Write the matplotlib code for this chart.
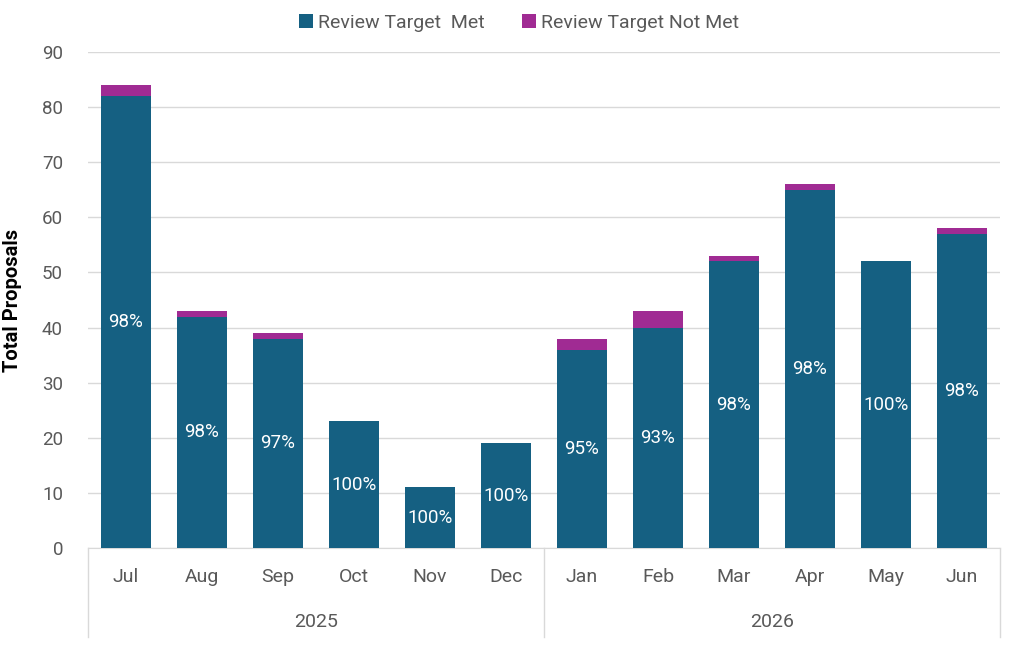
import numpy as np
import matplotlib.pyplot as plt
import matplotlib.transforms as mtransforms

months = ["Jul", "Aug", "Sep", "Oct", "Nov", "Dec",
          "Jan", "Feb", "Mar", "Apr", "May", "Jun"]
years = ["2025", "2026"]
met = [82, 42, 38, 23, 11, 19, 36, 40, 52, 65, 52, 57]
not_met = [2, 1, 1, 0, 0, 0, 2, 3, 1, 1, 0, 1]
pct_labels = ["98%", "98%", "97%", "100%", "100%", "100%",
              "95%", "93%", "98%", "98%", "100%", "98%"]

plt.rcParams['font.family'] = ['Roboto', 'DejaVu Sans']

fig = plt.figure(figsize=(10.24, 6.46), dpi=100)
ax = fig.add_axes([88 / 1024, 1 - 548 / 646, 912 / 1024, 496 / 646])

x = np.arange(len(months))
blue = "#156082"
purple = "#A02B93"
ax.bar(x, met, width=0.67, color=blue, label="Review Target  Met", zorder=3)
ax.bar(x, not_met, width=0.67, bottom=met, color=purple,
       label="Review Target Not Met", zorder=3)

for i in range(len(months)):
    ax.text(x[i], met[i] / 2, pct_labels[i], ha="center", va="center",
            color="white", fontsize=13.5, zorder=4)

ax.set_xlim(-0.5, 11.5)
ax.set_ylim(0, 90)
ax.set_yticks(np.arange(0, 91, 10))
ax.tick_params(axis="y", length=0, labelsize=13.5, labelcolor="#595959", pad=18)
ax.tick_params(axis="x", length=0, labelbottom=False)
ax.grid(axis="y", color="#D9D9D9", linewidth=1, zorder=0)
for s in ["top", "right", "left"]:
    ax.spines[s].set_visible(False)
ax.spines["bottom"].set_color("#D9D9D9")

ax.set_ylabel("Total Proposals", fontsize=14.5, fontweight="bold", color="black", labelpad=14)

# two level category axis
trans = mtransforms.blended_transform_factory(ax.transData, ax.transAxes)
for i in range(len(months)):
    ax.text(x[i], -29 / 496, months[i], transform=trans, ha="center", va="center",
            fontsize=14, color="#595959")
for j, yr in enumerate(years):
    ax.text(2.5 + 6 * j, -74 / 496, yr, transform=trans, ha="center", va="center",
            fontsize=14, color="#595959")
for sx in [-0.5, 5.5, 11.5]:
    ax.plot([sx, sx], [0, -89 / 496], transform=trans, color="#D9D9D9",
            linewidth=1, clip_on=False)

fig.legend(loc="center", bbox_to_anchor=(0.507, 1 - 23 / 646), ncol=2, frameon=False,
           fontsize=14, labelcolor="#595959", handlelength=0.7, handleheight=0.7,
           handletextpad=0.3, columnspacing=1.9)

fig.savefig("out.png", dpi=100)
